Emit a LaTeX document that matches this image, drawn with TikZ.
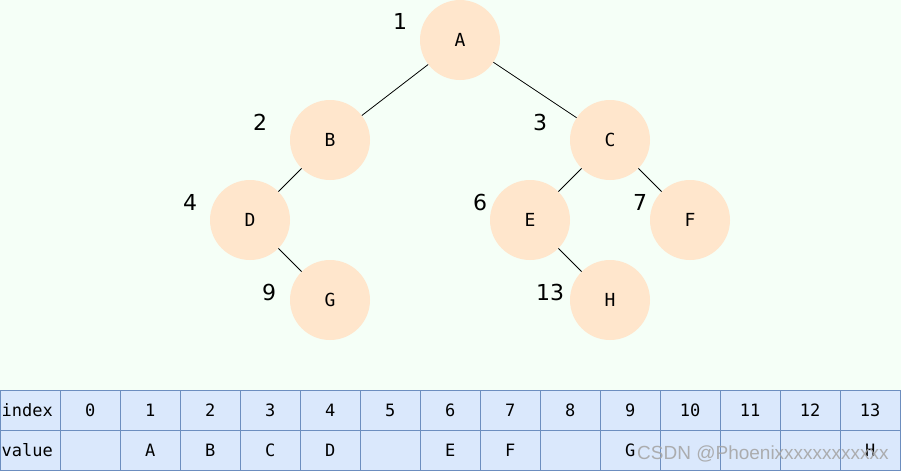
\documentclass[tikz,border=0pt]{standalone}
\usepackage{fontspec}
\setmainfont{DejaVu Sans}
\setmonofont{DejaVu Sans Mono}
\newfontfamily\wmfont{Liberation Sans}
\definecolor{bgc}{HTML}{F5FFF7}
\definecolor{peach}{HTML}{FFE6CC}
\definecolor{cellfill}{HTML}{DAE8FC}
\definecolor{cellline}{HTML}{6C8EBF}
\definecolor{wmgray}{HTML}{A6A6A6}
\begin{document}
\begin{tikzpicture}[x=1pt,y=-1pt,
  tn/.style={circle,fill=peach,minimum size=80pt,inner sep=0pt,font=\ttfamily\fontsize{18}{18}\selectfont},
  idx/.style={font=\fontsize{22}{22}\selectfont},
  cell/.style={draw=cellline,fill=cellfill,minimum width=60pt,minimum height=40pt,inner sep=0pt,anchor=north west,font=\ttfamily\fontsize{17}{17}\selectfont},
  edge/.style={draw=black,line width=0.8pt}]
\fill[bgc] (0,0) rectangle (901,471);
\useasboundingbox (0,0) rectangle (901,471);
\node[tn] (A) at (460,40) {A};
\node[tn] (B) at (330,140) {B};
\node[tn] (C) at (610,140) {C};
\node[tn] (D) at (250,220) {D};
\node[tn] (E) at (530,220) {E};
\node[tn] (F) at (690,220) {F};
\node[tn] (G) at (330,300) {G};
\node[tn] (H) at (610,300) {H};
\draw[edge] (A) -- (B);
\draw[edge] (A) -- (C);
\draw[edge] (B) -- (D);
\draw[edge] (C) -- (E);
\draw[edge] (C) -- (F);
\draw[edge] (D) -- (G);
\draw[edge] (E) -- (H);
\node[idx] (l1) at (400,21) {1};
\node[idx] (l2) at (260,122) {2};
\node[idx] (l3) at (540,122) {3};
\node[idx] (l4) at (190,202) {4};
\node[idx] (l6) at (480,202) {6};
\node[idx] (l7) at (640,202) {7};
\node[idx] (l9) at (269,292) {9};
\node[idx] (l13) at (550,292) {13};
% table
\node[cell,align=left,text width=57pt] (hi) at (0,390) {index};
\node[cell,align=left,text width=57pt] (hv) at (0,430) {value};
\foreach \i in {0,...,13} {
  \node[cell] (i\i) at ({60+60*\i},390) {\i};
}
\foreach \i/\v in {0/,1/A,2/B,3/C,4/D,5/,6/E,7/F,8/,9/G,10/,11/,12/,13/H} {
  \node[cell] (v\i) at ({60+60*\i},430) {\v};
}
\node[anchor=west,text=wmgray,opacity=0.9,font=\wmfont\fontsize{19}{19}\selectfont,inner sep=0pt] (wm) at (637,454) {CSDN @Phoenixxxxxxxxxxxx};
\end{tikzpicture}
\end{document}
